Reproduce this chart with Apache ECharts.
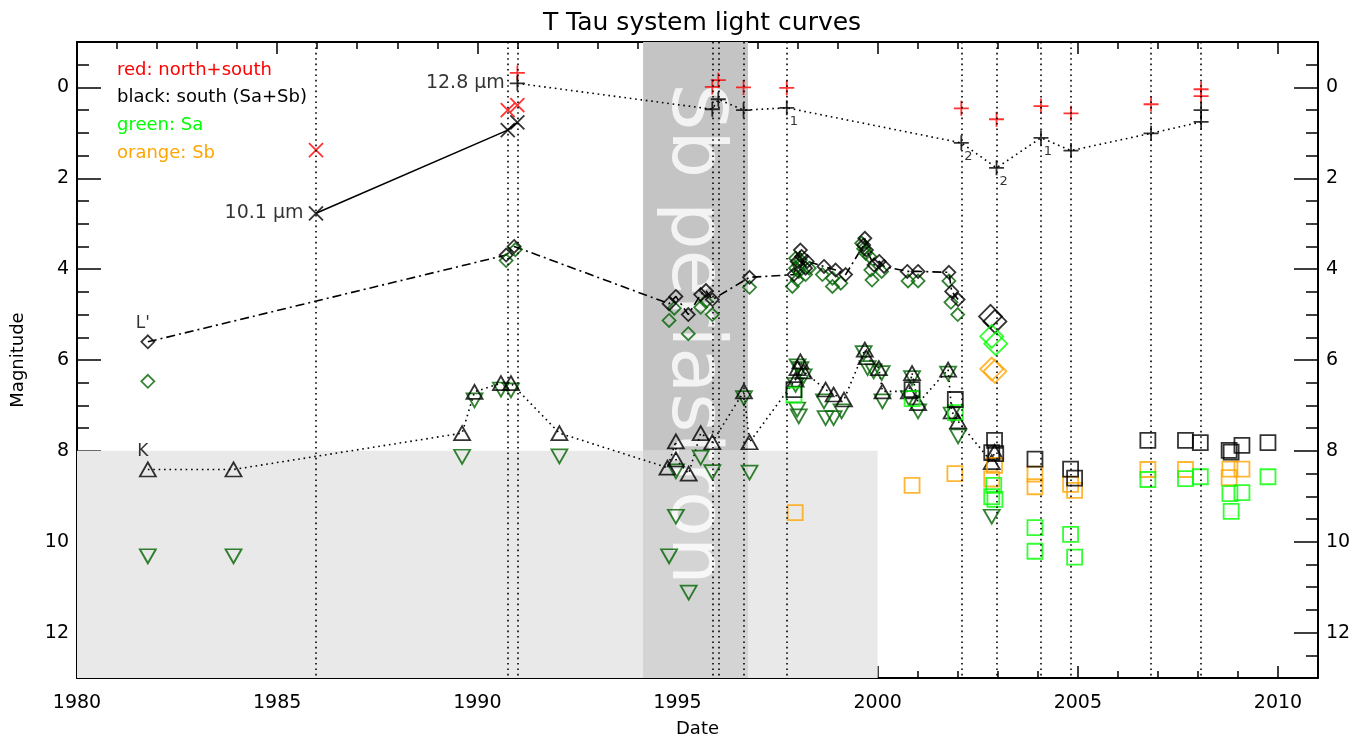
<!DOCTYPE html>
<html><head><meta charset="utf-8">
<script src="https://cdn.jsdelivr.net/npm/echarts@6/dist/echarts.min.js"></script>
<style>html,body{margin:0;padding:0;background:#fff}#c{width:1362px;height:738px}</style>
</head><body><div id="c"></div>
<script>
// ---------- axis ticks ----------
const xMajorTicks = [1980, 1985, 1990, 1995, 2000, 2005, 2010];
const xMinorTicks = [];
for (let y = 1981; y <= 2010; y++) if (y % 5 !== 0) xMinorTicks.push(y);
const yMajorTicks = [0, 2, 4, 6, 8, 10, 12];
const yMinorTicks = [-0.5, 0.5, 1, 1.5, 2.5, 3, 3.5, 4.5, 5, 5.5, 6.5, 7, 7.5, 8.5, 9, 9.5, 10.5, 11, 11.5, 12.5];

// ---------- shaded regions / epochs ----------
const lightBoxYears = [1980, 2000];
const lightBoxMags = [8, 13];
const periYears = [1994.14, 1996.76];
const periTextYear = [1995.38];
const periTextMag = [5.42];
const epochYears = [1985.97, 1990.76, 1991.0, 1995.87, 1996.02, 1996.65, 1997.73, 2002.09, 2002.97, 2004.08, 2004.83, 2006.83, 2008.08];

// ---------- 10.1 micron (x markers) ----------
const n10Years = [1985.97, 1990.76, 1991.0];
const n10Mags  = [1.38, 0.50, 0.39];
const s10Years = [1985.97, 1990.76, 1991.0];
const s10Mags  = [2.77, 0.94, 0.77];

// ---------- 12.8 micron (+ markers) ----------
const n12Years = [1991.0, 1995.87, 1996.02, 1996.65, 1997.73, 2002.09, 2002.97, 2004.08, 2004.83, 2006.83, 2008.08, 2008.08];
const n12Mags  = [-0.32, -0.01, -0.16, 0.0, 0.01, 0.46, 0.70, 0.41, 0.57, 0.37, 0.04, 0.19];
const s12Years = [1991.0, 1995.87, 1996.02, 1996.65, 1997.73, 2002.09, 2002.97, 2004.08, 2004.83, 2006.83, 2008.08, 2008.08];
const s12Mags  = [-0.09, 0.48, 0.26, 0.50, 0.45, 1.22, 1.77, 1.11, 1.39, 1.01, 0.76, 0.50];
const noteYears = [1997.73, 2002.09, 2002.97, 2004.08];
const noteMags  = [0.45, 1.22, 1.77, 1.11];
const noteTexts = ['1', '2', '2', '1'];

// ---------- L' band (diamonds) ----------
const lSYears = [1981.77, 1990.72, 1990.92, 1994.79, 1994.96, 1995.27, 1995.58, 1995.71, 1995.87, 1996.80,
  1997.91, 1997.99, 1998.07, 1998.10, 1998.20, 1998.24, 1998.66, 1998.95, 1999.20,
  1999.65, 1999.68, 1999.72, 1999.91, 2000.04, 2000.16, 2000.74, 2001.01, 2001.78, 2001.85, 2002.01];
const lSMags = [5.60, 3.69, 3.50, 4.76, 4.60, 5.00, 4.56, 4.47, 4.67, 4.18,
  4.12, 3.83, 3.58, 3.72, 3.98, 3.83, 3.94, 4.02, 4.12,
  3.47, 3.32, 3.58, 3.91, 3.83, 3.94, 4.05, 4.05, 4.07, 4.49, 4.67];
const lAYears = [1981.77, 1990.72, 1990.95, 1994.79, 1994.92, 1995.27, 1995.58, 1995.71, 1995.87, 1996.80,
  1997.87, 1997.95, 1997.95, 1997.99, 1998.03, 1998.03, 1998.07, 1998.20, 1998.29,
  1998.62, 1998.87, 1998.87, 1999.08, 1999.60, 1999.65, 1999.70, 1999.80, 1999.83, 1999.86, 2000.10,
  2000.76, 2001.01, 2001.78, 2001.83, 2002.00];
const lAMags = [6.47, 3.81, 3.57, 5.13, 4.86, 5.42, 4.84, 4.71, 5.00, 4.40,
  4.38, 3.76, 3.98, 4.24, 3.91, 4.05, 3.80, 4.12, 3.98,
  4.12, 4.20, 4.38, 4.31, 3.43, 3.55, 3.65, 3.72, 4.02, 4.24, 4.05,
  4.26, 4.26, 4.26, 4.73, 5.00];
const lBigSYears = [2002.82, 2002.93];
const lBigSMags  = [5.04, 5.15];
const lBigAYears = [2002.85, 2002.95];
const lBigAMags  = [5.48, 5.64];
const lBigBYears = [2002.85, 2002.93];
const lBigBMags  = [6.20, 6.25];

// ---------- K band (triangles) ----------
const kSYears = [1981.77, 1983.91, 1989.62, 1989.93, 1990.59, 1990.84, 1992.05, 1994.75, 1994.96, 1994.96, 1995.28, 1995.58, 1995.87,
  1996.66, 1996.80, 1997.95, 1998.00, 1998.07, 1998.15, 1998.70, 1998.90, 1999.16, 1999.68, 1999.72,
  2000.03, 2000.12, 2000.78, 2000.86, 2001.01, 2001.76, 2001.85, 2002.01, 2002.85, 2002.92];
const kSMags = [8.41, 8.41, 7.61, 6.70, 6.51, 6.51, 7.61, 8.37, 7.79, 8.19, 8.50, 7.61, 7.81,
  6.69, 7.81, 6.43, 6.18, 6.03, 6.25, 6.65, 6.76, 6.87, 5.77, 5.94,
  6.18, 6.69, 6.69, 6.29, 6.95, 6.21, 7.13, 7.35, 8.25, 8.02];
const kAYears = [1981.77, 1983.91, 1989.62, 1989.93, 1990.59, 1990.84, 1992.05, 1994.79, 1994.96, 1994.96, 1995.28, 1995.58, 1995.87,
  1996.66, 1996.80, 1997.95, 1998.00, 1998.07, 1998.15, 1997.99, 1998.03, 1998.66, 1998.70, 1998.90, 1999.10,
  1999.65, 1999.75, 1999.90, 2000.10, 2000.12, 2000.78, 2000.86, 2001.01, 2001.76, 2001.85, 2002.01, 2002.85];
const kAMags = [10.32, 10.32, 8.13, 6.89, 6.65, 6.67, 8.12, 10.32, 8.45, 9.45, 11.12, 8.15, 8.47,
  6.84, 8.48, 6.55, 6.14, 6.20, 6.36, 7.09, 7.24, 6.91, 7.28, 7.28, 7.13,
  5.85, 6.18, 6.25, 6.29, 6.91, 6.84, 6.40, 7.13, 6.30, 7.20, 7.68, 9.45];

// ---------- resolved photometry (squares) ----------
const qSYears = [1997.91, 2000.86, 2001.94, 2002.92, 2002.85, 2002.95, 2003.93, 2004.82, 2004.92, 2006.75, 2007.69, 2008.06, 2008.78, 2008.83, 2009.10, 2009.75];
const qSMags  = [6.65, 6.65, 6.87, 7.77, 8.04, 8.06, 8.18, 8.40, 8.60, 7.77, 7.77, 7.82, 7.99, 8.03, 7.88, 7.82];
const qAYears = [1997.91, 2000.86, 2001.94, 2002.90, 2002.85, 2002.93, 2003.93, 2003.93, 2004.82, 2004.92, 2006.75, 2007.69, 2008.06, 2008.80, 2008.83, 2009.10, 2009.75];
const qAMags  = [6.77, 6.85, 7.16, 8.76, 9.01, 9.07, 9.69, 10.21, 9.84, 10.34, 8.63, 8.61, 8.57, 8.94, 9.33, 8.92, 8.57];
const qBYears = [1997.94, 2000.86, 2001.93, 2002.92, 2002.85, 2003.93, 2003.93, 2004.82, 2004.92, 2006.75, 2007.69, 2008.80, 2008.78, 2009.10];
const qBMags  = [9.36, 8.76, 8.50, 8.32, 8.62, 8.51, 8.79, 8.74, 8.87, 8.41, 8.41, 8.40, 8.59, 8.40];

// ---------- text annotations ----------
const wlLabelYears = [1991.0, 1985.97];
const wlLabelMags  = [-0.09, 2.77];
const wlLabelTexts = ['12.8 \u03bcm', '10.1 \u03bcm'];
const bandLabelYears = [1981.77, 1981.77];
const bandLabelMags  = [5.60, 8.41];
const bandLabelTexts = ["L'", 'K'];
const legendTexts = ['red: north+south', 'black: south (Sa+Sb)', 'green: Sa', 'orange: Sb'];

// ---------- helpers & styles ----------
const FONT = 'DejaVu Sans';
const BLACK = '#000000', RED = '#ff0000', DG = '#006400', LG = '#00ff00', OR = '#ffa500';
const legendColors = [RED, BLACK, LG, OR];
const zip = (xs, ys) => xs.map((x, i) => [x, ys[i]]);
const CROSS = 'path://M0,0L10,10M10,0L0,10';
const PLUS = 'path://M5,0L5,10M0,5L10,5';
const DOT = [1.6, 3.8];

function markers(name, xs, ys, symbol, size, color, rotate) {
  return {
    name, type: 'scatter', z: 4, data: zip(xs, ys), symbol, symbolSize: size,
    symbolRotate: rotate || 0,
    itemStyle: { color: 'transparent', borderColor: color, borderWidth: 1.8 },
    emphasis: { disabled: true }, silent: true
  };
}
function connect(name, xs, ys, type, width) {
  return {
    name, type: 'line', z: 3, data: zip(xs, ys), showSymbol: false, symbol: 'none',
    lineStyle: { color: BLACK, width: width || 1.5, type }, silent: true, animation: false
  };
}

const tickStyle = { color: BLACK, width: 1.5 };
const plainNum = v => String(v);
function xAx(pos, custom, len, showLine, showLabel, extra) {
  return Object.assign({
    type: 'value', position: pos, min: 1980, max: 2011,
    axisLine: { show: showLine, onZero: false, lineStyle: { color: BLACK, width: 2 } },
    axisTick: { show: true, inside: true, length: len, customValues: custom, lineStyle: tickStyle },
    axisLabel: { show: showLabel, customValues: custom, formatter: plainNum, color: BLACK, fontFamily: FONT, fontSize: 19, margin: 16 },
    splitLine: { show: false }
  }, extra || {});
}
function yAx(pos, custom, len, showLine, showLabel, extra) {
  return Object.assign({
    type: 'value', position: pos, min: -1, max: 13, inverse: true,
    axisLine: { show: showLine, onZero: false, lineStyle: { color: BLACK, width: 2 } },
    axisTick: { show: true, inside: true, length: len, customValues: custom, lineStyle: tickStyle },
    axisLabel: { show: showLabel, customValues: custom, formatter: plainNum, color: BLACK, fontFamily: FONT, fontSize: 19, margin: 8 },
    splitLine: { show: false }
  }, extra || {});
}

const chart = echarts.init(document.getElementById('c'), null, { renderer: 'canvas' });
const option = {
  animation: false,
  backgroundColor: '#ffffff',
  title: {
    text: 'T Tau system light curves', left: 697, top: 6, textAlign: 'center',
    textStyle: { fontFamily: FONT, fontSize: 25, fontWeight: 'normal', color: BLACK }
  },
  grid: { left: 77, right: 44, top: 42, bottom: 60, containLabel: false, outerBoundsMode: 'none' },
  xAxis: [
    xAx('bottom', xMajorTicks, 12, true, true, {
      name: 'Date', nameLocation: 'middle', nameGap: 42,
      nameTextStyle: { fontFamily: FONT, fontSize: 18, color: BLACK }
    }),
    xAx('bottom', xMinorTicks, 7, false, false),
    xAx('top', xMajorTicks, 12, true, false),
    xAx('top', xMinorTicks, 7, false, false)
  ],
  yAxis: [
    yAx('left', yMajorTicks, 24, true, true, {
      name: 'Magnitude', nameLocation: 'middle', nameGap: 50, nameRotate: 90,
      nameTextStyle: { fontFamily: FONT, fontSize: 18, color: BLACK }
    }),
    yAx('left', yMinorTicks, 12, false, false),
    yAx('right', yMajorTicks, 24, true, true),
    yAx('right', yMinorTicks, 12, false, false)
  ],
  graphic: legendTexts.map((t, i) => ({
    type: 'text', left: 117, top: 61 + i * 27.8, silent: true,
    style: { text: t, fill: legendColors[i], fontFamily: FONT, fontSize: 18 }
  })),
  series: [
    {
      name: 'shading', type: 'scatter', z: 0, silent: true, data: [[1980, -1]], symbolSize: 0,
      markArea: {
        silent: true,
        data: [
          [{ xAxis: lightBoxYears[0], yAxis: lightBoxMags[0], itemStyle: { color: '#e9e9e9' } }, { xAxis: lightBoxYears[1], yAxis: lightBoxMags[1] }],
          [{ xAxis: periYears[0], yAxis: -1, itemStyle: { color: '#c4c4c4' } }, { xAxis: periYears[1], yAxis: lightBoxMags[0] }],
          [{ xAxis: periYears[0], yAxis: lightBoxMags[0], itemStyle: { color: '#d4d4d4' } }, { xAxis: periYears[1], yAxis: lightBoxMags[1] }]
        ]
      }
    },
    {
      name: 'periastron', type: 'scatter', z: 1, silent: true, symbolSize: 1,
      itemStyle: { color: 'transparent' },
      data: zip(periTextYear, periTextMag),
      label: {
        show: true, position: 'inside', rotate: -90, formatter: 'Sb periastron',
        color: '#ffffff', fontFamily: FONT, fontSize: 75, align: 'center', verticalAlign: 'middle'
      }
    },
    {
      name: 'epochs', type: 'scatter', z: 2, silent: true, data: [[1980, -1]], symbolSize: 0,
      markLine: {
        silent: true, symbol: ['none', 'none'], label: { show: false }, animation: false,
        lineStyle: { color: BLACK, width: 1.6, type: DOT },
        data: epochYears.map(y => ({ xAxis: y }))
      }
    },
    connect('s10 line', s10Years, s10Mags, 'solid', 1.6),
    connect('s12 line', s12Years, s12Mags, DOT, 1.6),
    connect('L line', lSYears, lSMags, [9, 4, 2, 4], 1.6),
    connect('K line', kSYears, kSMags, DOT, 1.6),
    markers('n10', n10Years, n10Mags, CROSS, 14, RED),
    markers('s10', s10Years, s10Mags, CROSS, 14, BLACK),
    markers('n12', n12Years, n12Mags, PLUS, 15, RED),
    markers('s12', s12Years, s12Mags, PLUS, 15, BLACK),
    markers('L Sa', lAYears, lAMags, 'diamond', 13, DG),
    markers('L S', lSYears, lSMags, 'diamond', 13, BLACK),
    markers('L big S', lBigSYears, lBigSMags, 'diamond', 23, BLACK),
    markers('L big Sa', lBigAYears, lBigAMags, 'diamond', 23, LG),
    markers('L big Sb', lBigBYears, lBigBMags, 'diamond', 23, OR),
    markers('K Sa', kAYears, kAMags, 'triangle', [16, 14], DG, 180),
    markers('K S', kSYears, kSMags, 'triangle', [16, 14], BLACK),
    markers('sq Sb', qBYears, qBMags, 'rect', 15, OR),
    markers('sq Sa', qAYears, qAMags, 'rect', 15, LG),
    markers('sq S', qSYears, qSMags, 'rect', 15, BLACK),
    {
      name: 'notes', type: 'scatter', z: 5, silent: true, symbolSize: 1, itemStyle: { color: 'transparent' },
      data: noteYears.map((y, i) => ({ value: [y, noteMags[i]], name: noteTexts[i] })),
      label: { show: true, position: 'inside', offset: [7, 14], formatter: '{b}', color: BLACK, fontFamily: FONT, fontSize: 13 }
    },
    {
      name: 'wl labels', type: 'scatter', z: 5, silent: true, symbolSize: 1, itemStyle: { color: 'transparent' },
      data: wlLabelYears.map((y, i) => ({ value: [y, wlLabelMags[i]], name: wlLabelTexts[i] })),
      label: { show: true, position: 'left', distance: 12, formatter: '{b}', color: BLACK, fontFamily: FONT, fontSize: 19 }
    },
    {
      name: 'band labels', type: 'scatter', z: 5, silent: true, symbolSize: 1, itemStyle: { color: 'transparent' },
      data: bandLabelYears.map((y, i) => ({ value: [y, bandLabelMags[i]], name: bandLabelTexts[i] })),
      label: { show: true, position: 'inside', offset: [-5, -18], formatter: '{b}', color: BLACK, fontFamily: FONT, fontSize: 17 }
    }
  ]
};
chart.setOption(option);
</script>
</body></html>
